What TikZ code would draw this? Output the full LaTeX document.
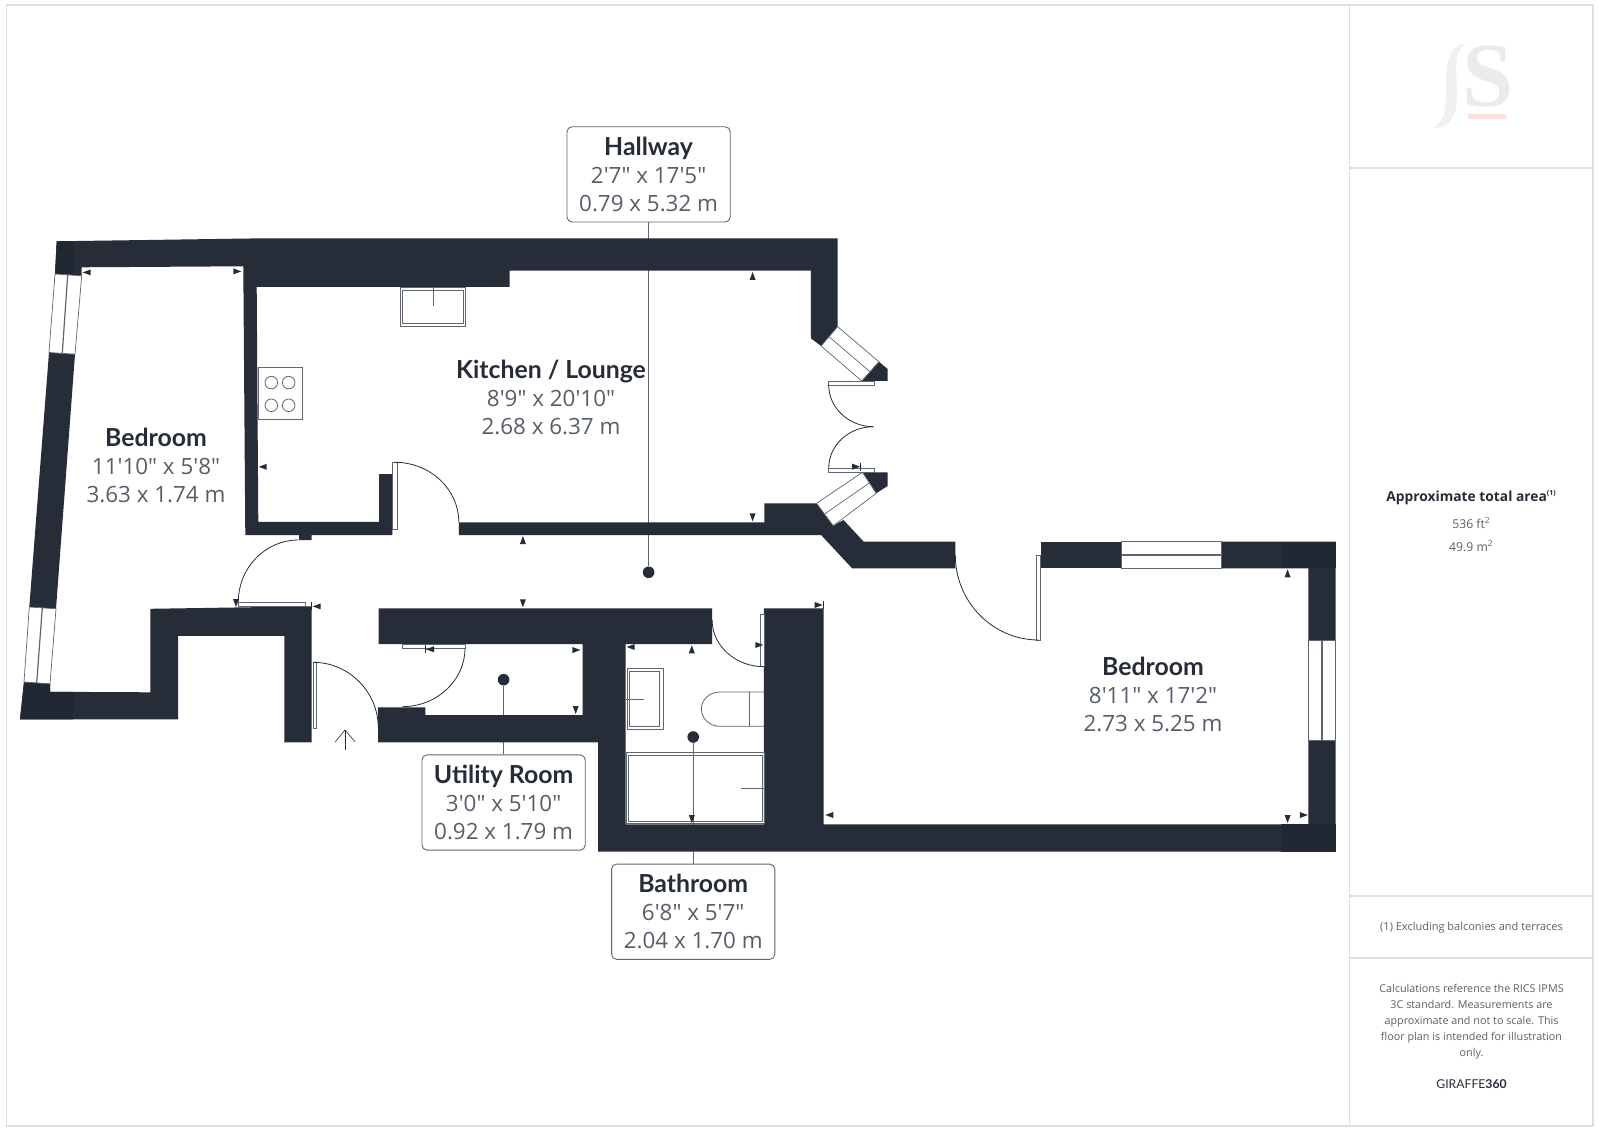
\documentclass[tikz,border=0pt]{standalone}
\usepackage{fontspec}
\setmainfont{Open Sans}
\newfontfamily\dimfont{Open Sans}
\newfontfamily\titlefont{Lato}
\newfontfamily\logofont{Liberation Serif}
\usepackage{tikz}
\definecolor{wallc}{HTML}{262C38}
\definecolor{cornerc}{HTML}{212733}
\definecolor{dimc}{HTML}{565E6A}
\definecolor{framec}{HTML}{DFDFDF}
\definecolor{fixc}{HTML}{5F6670}
\definecolor{panelc}{HTML}{5A606A}
\tikzset{
    wall/.style={fill=wallc, draw=none},
    glass/.style={draw=fixc, line width=.35pt, fill=white},
    glassmid/.style={draw=fixc, line width=.6pt},
    leaf/.style={draw=fixc, line width=.4pt, fill=white},
    swing/.style={draw=wallc, line width=.4pt},
    fixture/.style={draw=fixc, line width=.4pt},
    leader/.style={draw=fixc, line width=.5pt},
    roombox/.style={draw=fixc, line width=.45pt, rounded corners=2.5pt, fill=white, inner sep=0pt, minimum width=81.6pt, minimum height=47.6pt, align=center, font=\fontsize{11.2}{14}\selectfont},
    roomtext/.style={inner sep=0pt, align=center, font=\fontsize{11.2}{14}\selectfont},
    roomdot/.style={fill=wallc, circle, minimum size=5.8pt, inner sep=0pt},
    paneltext/.style={inner sep=0pt, align=center, text=panelc, font=\fontsize{5.4}{8}\selectfont}
}
\newcommand{\roomlines}[3]{{\titlefont\bfseries\fontsize{12.4}{14}\selectfont\color{wallc}#1}\\{\dimfont\color{dimc}#2}\\{\dimfont\color{dimc}#3}}
\begin{document}
\begin{tikzpicture}[x=.5pt, y=-.5pt]
            \useasboundingbox (0,0) rectangle (1600,1128);
            \fill[white] (0,0) rectangle (1600,1128);

            \draw[framec, line width=.7pt] (6.5,5) rectangle (1593,1126);
            \draw[framec, line width=.6pt] (1349.5,5) -- (1349.5,1126);
            \draw[framec, line width=.6pt] (1349.5,168) -- (1593,168);
            \draw[framec, line width=.6pt] (1349.5,896) -- (1593,896);
            \draw[framec, line width=.6pt] (1349.5,958) -- (1593,958);

            \fill[black!6] (1466.7,43.3) .. controls (1450,44) and (1446,60) .. (1446,85) .. controls (1446,105) and (1446,122) .. (1433,128) .. controls (1448,128) and (1457,118) .. (1457,95) .. controls (1457,70) and (1452,50) .. (1466.7,43.3);
            \node[inner sep=0pt, text=black!8] (logoS) at (1488,76){\logofont\bfseries\fontsize{46}{46}\selectfont S};
            \fill[red!12] (1466.7,114) -- (1505,114) -- (1508,119) -- (1469,119) -- cycle;

            \node[roombox] (box1) at (648.6,174.4){\roomlines{Hallway}{2'7" x 17'5"}{0.79 x 5.32 m}};
            \node[roombox] (box2) at (503.6,802.5){\roomlines{Utility Room}{3'0" x 5'10"}{0.92 x 1.79 m}};
            \node[roombox] (box3) at (693.2,911.7){\roomlines{Bathroom}{6'8" x 5'7"}{2.04 x 1.70 m}};
            \node[roomdot] (dot1) at (648.6,572.3){};
            \node[roomdot] (dot2) at (503.6,679.7){};
            \node[roomdot] (dot3) at (693.2,737){};
            \draw[leader] (box1) -- (dot1);
            \draw[leader] (box2) -- (dot2);
            \draw[leader] (box3) -- (dot3);

            \node[roomtext] (room1) at (551,397){\roomlines{Kitchen / Lounge}{8'9" x 20'10"}{2.68 x 6.37 m}};
            \node[roomtext] (room2) at (156,465.5){\roomlines{Bedroom}{11'10" x 5'8"}{3.63 x 1.74 m}};
            \node[roomtext] (room3) at (1153,694.5){\roomlines{Bedroom}{8'11" x 17'2"}{2.73 x 5.25 m}};

            \fill[wall] (56.7,241.3) -- (250,238.5) -- (837.6,238.3) -- (837.6,326.7) -- (821.1,346) -- (810.8,338.3) -- (810.8,270.7) -- (509.5,270.7) -- (509.5,286.8) -- (256.7,286.8) -- (258.3,521.9) -- (379,521.9) -- (379,474.2) -- (392.3,474.2) -- (392.3,535) -- (311.7,535) -- (311.7,540) -- (299,540) -- (299,535) -- (245.3,535) -- (243.3,266.3) -- (81.7,267.3) -- (81.7,275.8) -- (55,274) -- cycle;
            \fill[wall] (49,352.5) -- (75,354.2) -- (56,608.8) -- (29.3,607) -- cycle;
            \fill[wall] (24,682) -- (50,683.8) -- (50,691.8) -- (150.3,692.3) -- (150.3,608.8) -- (305.7,606.4) -- (311.7,606.4) -- (311.7,742.3) -- (284.3,742.3) -- (284.3,635.8) -- (178,635.8) -- (178,719.3) -- (20,719.3) -- cycle;
            \fill[wall] (458.8,522.3) -- (764.3,522.3) -- (764.3,503.3) -- (816.6,503.3) -- (833.2,525.7) -- (843.5,520) -- (863.7,541.7) -- (955.3,541.7) -- (955.3,568.3) -- (852.1,568.3) -- (821.1,535) -- (458.8,535) -- cycle;
            \fill[wall] (878.9,361.7) -- (887.6,369) -- (887.6,381) -- (861.7,381) -- cycle;
            \fill[wall] (862.4,472.3) -- (887.6,472.3) -- (887.6,486) -- (876.2,493.3) -- cycle;
            \fill[wall] (1040.7,541.7) rectangle (1121.3,568.3);
            \fill[wall] (1221.2,541.7) -- (1335.5,541.7) -- (1335.5,640.7) -- (1308.3,640.7) -- (1308.3,568.3) -- (1221.2,568.3) -- cycle;
            \fill[wall] (1308.3,740) -- (1335.5,740) -- (1335.5,851.7) -- (598.2,851.7) -- (598.2,742.3) -- (378.2,742.3) -- (377.9,707.3) -- (425.4,707.3) -- (425.4,715) -- (582.5,715) -- (582.5,644) -- (378.6,644) -- (378.6,608.3) -- (712.1,608.3) -- (712.1,644) -- (625.7,644) -- (625.7,824.3) -- (763.9,824.3) -- (763.9,608.3) -- (823.6,608.3) -- (823.6,824.3) -- (1308.3,824.3) -- cycle;

            \fill[cornerc] (56.7,241.3) -- (73,241) -- (73,275) -- (55,274) -- cycle;
            \fill[cornerc] (24,682) -- (50,683.8) -- (50,691.8) -- (73,691.8) -- (73,719.3) -- (20,719.3) -- cycle;
            \fill[cornerc] (1281.4,541.7) rectangle (1335.5,568.3);
            \fill[cornerc] (1281.4,824.3) rectangle (1335.5,851.7);

            \draw[glass] (55,274) -- (81.7,275.8) -- (75,354.2) -- (49,352.5) -- cycle;
            \draw[glassmid] (67.7,275) -- (62.3,353.2);
            \draw[glass] (29.3,607) -- (56,608.8) -- (50,683.8) -- (24,682) -- cycle;
            \draw[glassmid] (42.3,607.8) -- (36.7,683);
            \draw[glass] (837.6,326.7) -- (821.1,346) -- (861.7,381) -- (878.9,361.7) -- cycle;
            \draw[glass] (829,336.7) -- (870,371.7);
            \draw[glass] (862.4,472.3) -- (876.2,493.3) -- (833.2,525.7) -- (816.6,503.3) -- cycle;
            \draw[glass] (869.3,483) -- (824.6,514);
            \draw[glass] (1121.3,541.7) rectangle (1221.2,568.3);
            \draw[glassmid, line width=.9pt] (1121.3,555) -- (1221.2,555);
            \draw[glass] (1308.3,640.7) rectangle (1335.5,740);
            \draw[glassmid, line width=.9pt] (1321.9,640.7) -- (1321.9,740);

            \draw[leaf] (392.3,462.3) rectangle (396.9,529);
            \draw[leaf] (238.3,602) rectangle (305.7,606.4);
            \draw[leaf] (312.9,662.3) rectangle (316.4,728.3);
            \draw[leaf] (402.1,644) rectangle (465,648.3);
            \draw[leaf] (760.4,614) rectangle (763.9,666);
            \draw[leaf] (1036.3,555) rectangle (1040.7,640);
            \draw[leaf] (828.7,381) rectangle (874.5,385);
            \draw[leaf] (828.7,468.3) rectangle (874.5,472.3);

            \draw[swing] (394.8,462.3) .. controls (430,462.3) and (458.8,489) .. (458.8,522.3);
            \draw[swing] (298.3,540) .. controls (265,540) and (238.3,568) .. (238.3,602);
            \draw[swing] (313,662.3) .. controls (349,662.3) and (378.3,692) .. (378.3,728);
            \draw[swing] (465,648.3) .. controls (465,680.5) and (436.7,706.7) .. (402.1,706.7);
            \draw[swing] (712.1,620) .. controls (712.1,645.7) and (735.4,666.7) .. (763.9,666.7);
            \draw[swing] (955.3,555) .. controls (955.3,602) and (992.8,640) .. (1038.7,640);
            \draw[swing] (828.7,385) .. controls (828.7,408) and (849,426.7) .. (873.4,426.7);
            \draw[swing] (828.7,468.3) .. controls (828.7,445) and (849,426.7) .. (873.4,426.7);

            \draw[fixture] (400.3,287.7) rectangle (465.7,326);
            \draw[fixture] (402.4,290) rectangle (463.7,323.3);
            \draw[fixture] (433,287.7) -- (433,306);
            \draw[fixture, fill=white] (258.3,367.7) rectangle (302.7,419.5);
            \foreach \x in {271.3,288.7}
                \foreach \y in {382.6,405.3}
                    \draw[fixture] (\x,\y) circle[radius=6.3];
            \draw[fixture] (627.1,668.3) rectangle (662.9,729.3);
            \draw[fixture] (629.3,671) rectangle (659.6,726.7);
            \draw[fixture] (625.7,699) -- (644.3,699);
            \draw[fixture] (763.9,692) -- (720,692) .. controls (709,692) and (701.4,700) .. (701.4,709) .. controls (701.4,718) and (709,726.3) .. (720,726.3) -- (763.9,726.3);
            \draw[fixture] (749.6,692) -- (749.6,726.3);
            \draw[fixture] (626.4,752.3) rectangle (763.9,823.3);
            \draw[fixture] (628.6,755) rectangle (762.1,821.7);
            \draw[fixture] (740.7,788) -- (763.9,788);

            \draw[wallc, line width=.3pt] (345,750) -- (345,730);
            \draw[wallc, line width=.3pt] (335.4,741.7) -- (345,730) -- (355,741.7);

            \foreach \x/\y/\a in {86.7/272.4/180, 237.3/271.4/0, 262.7/466.8/180, 236/603/270, 316.7/606.4/180, 430/649.3/180, 752.6/276/90, 752.6/517.3/270, 522.9/540/90, 522.9/603.3/270, 856.2/466.7/0, 818.7/605/0, 576.4/650/0, 575.7/710/270, 630.7/647/180, 691.8/649.3/90, 691.8/819/270, 829.3/815/180, 759.3/645/0, 1287.6/573.3/90, 1287.6/819/270, 1303.8/815/0}
                \fill[wallc, shift={(\x,\y)}, rotate=\a] (4,0) -- (-4,3) -- (-4,-3) -- cycle;
            \foreach \x/\y in {311.7/606.4, 425.5/649.3, 860.7/466.7, 823.6/605}
                \draw[wallc, line width=.3pt] (\x,\y-4) -- (\x,\y+4);

            \node[paneltext, font=\fontsize{6.9}{8}\selectfont\bfseries, text=wallc] (panel1) at (1471.5,498){Approximate total area\textsuperscript{\fontsize{3.5}{4}\selectfont(1)}};
            \node[paneltext, font=\fontsize{6.1}{8}\selectfont] (panel2) at (1471.5,522.5){536 ft\textsuperscript{2}};
            \node[paneltext, font=\fontsize{6.1}{8}\selectfont] (panel3) at (1471.5,546){49.9 m\textsuperscript{2}};
            \node[paneltext, font=\fontsize{5.5}{8}\selectfont] (panel4) at (1471.5,928){(1) Excluding balconies and terraces};
            \node[paneltext] (panel5) at (1471.5,1022){Calculations reference the RICS IPMS\\3C standard. Measurements are\\approximate and not to scale. This\\floor plan is intended for illustration\\only.};
            \node[paneltext, text=wallc, font=\titlefont\fontsize{6.1}{8}\selectfont] (panel6) at (1471.5,1084){GIRAFFE\textbf{360}};
        \end{tikzpicture}
\end{document}
